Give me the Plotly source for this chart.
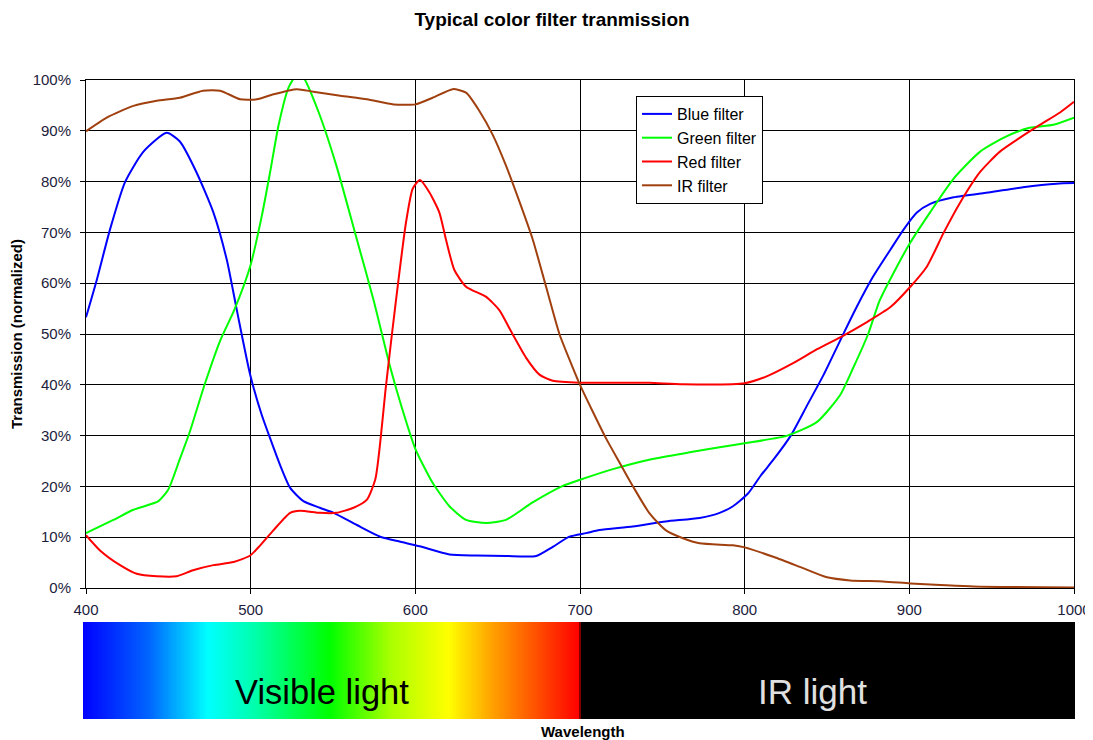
import plotly.graph_objects as go

# ---------------- data ----------------
blue_nm = [400, 406.5, 414.6, 423.7, 434.9, 449, 457, 467, 477.4, 485.5, 491.6, 499.7, 506.8, 511.9, 518, 524,
           532, 542, 550.4, 564.5, 578.7, 590.9, 602.6, 620.7, 636.9, 655, 673.4, 683.5, 693.6, 703.7, 711.9,
           732, 752, 772.6, 784.8, 792.9, 802, 809.7, 817.8, 828, 838, 848, 858, 868, 878, 888.5, 896.6,
           904.6, 912.7, 926.9, 949, 969, 989.5, 1000]
blue_t = [53.3, 60.6, 70.6, 79.9, 85.9, 89.6, 87.9, 81.9, 73.9, 64.6, 54.7, 42, 34, 29.4, 24.1, 19.7,
          17.1, 15.8, 14.8, 12.4, 10.1, 9.1, 8.2, 6.6, 6.4, 6.3, 6.3, 8.1, 10.1, 10.8, 11.4,
          12.1, 13.1, 13.8, 14.8, 16.1, 18.6, 22.1, 25.4, 30, 36, 42, 48.7, 55.3, 61.3, 66.6, 70.6,
          73.9, 75.6, 76.9, 77.9, 78.9, 79.6, 79.7]

green_nm = [400, 416.6, 428.8, 444, 450, 457, 463, 472, 481.5, 490, 499.7, 506.8, 511.9, 517, 523, 528,
            532, 541, 552, 564.5, 574.7, 584.8, 591.9, 600, 610.5, 620.7, 630.8, 643, 655, 671, 689.6, 700,
            720, 744, 766.6, 784.8, 800, 825.9, 844, 858, 866, 875, 882, 892.5, 900.6, 912.7, 926.9,
            943, 959, 973, 987.5, 1000]
green_t = [10.8, 13.4, 15.4, 17.1, 19.4, 25.4, 30.7, 40, 48.7, 54.7, 63.3, 73.3, 82, 91.2, 98.5, 101,
           100.5, 93.9, 83.2, 68.6, 56.6, 43.4, 35.4, 27.4, 20.7, 16.1, 13.4, 12.8, 13.4, 16.8, 20.1, 21.3,
           23.4, 25.4, 26.7, 27.7, 28.5, 30, 32.7, 38, 43.4, 50, 56.6, 63.3, 68, 74, 80.6,
           85.9, 88.9, 90.6, 91.2, 92.6]

red_nm = [400, 408.5, 420.7, 430.8, 443, 455, 465, 477.4, 489.6, 499.7, 505.8, 513.9, 524, 530, 542, 552,
          562.5, 570.6, 575.7, 578.7, 581.8, 585.8, 589.9, 594.3, 598.4, 602.8, 608.5, 614.6, 618.6, 623.7,
          630.8, 643, 651, 659, 667.3, 675.4, 683.5, 700, 722, 742, 762.5, 800, 813.7, 828, 844, 860,
          874, 888.5, 900.6, 910.7, 920.8, 930.9, 943, 955, 967, 979.5, 991.5, 1000]
red_t = [10.4, 7.4, 4.5, 2.8, 2.3, 2.3, 3.5, 4.5, 5.1, 6.4, 8.4, 11.4, 14.8, 15.2, 14.8, 14.8,
         15.8, 17.4, 21.4, 28.7, 38.7, 50, 61, 71.9, 78.6, 80.3, 77.9, 73.9, 68.6, 62.6,
         59.3, 57.3, 54.7, 50, 45.3, 42, 40.8, 40.4, 40.4, 40.4, 40.1, 40.3, 41.7, 44, 47, 49.7,
         52.3, 55.3, 59.3, 63.3, 69.9, 75.9, 81.9, 85.9, 88.6, 91.2, 93.6, 95.7]

ir_nm = [400, 412.6, 428.8, 443, 457, 471, 481.5, 493.6, 503.7, 513.9, 528, 538, 554.4, 570.6, 586.8, 600,
         610.5, 622.7, 630.8, 638.9, 647, 655, 663.4, 671.3, 679.4, 687.5, 695.6, 700, 707.8, 715.9, 724,
         732, 742, 752, 762.5, 772.6, 792.9, 800, 817.8, 834, 850, 864, 884, 900.6, 918.8, 939, 1000]
ir_t = [89.9, 92.6, 94.9, 95.9, 96.5, 97.9, 97.9, 96.2, 96.2, 97.2, 98.2, 97.7, 96.9, 96.2, 95.2, 95.2,
        96.5, 98.2, 97.5, 93.9, 89.2, 83.2, 75.9, 68.6, 59.3, 50, 43.4, 40, 34.7, 29.4, 24.7,
        20.1, 14.8, 11.4, 9.8, 8.8, 8.4, 8.0, 6.1, 4.1, 2.1, 1.5, 1.3, 0.9, 0.6, 0.3, 0.1]

series_names = ["Blue filter", "Green filter", "Red filter", "IR filter"]
series_colors = ["#0000FF", "#00FF00", "#FF0000", "#A0400F"]

x_ticks = [400, 500, 600, 700, 800, 900, 1000]

# spectrum bar: wavelength stops and their colours
spectrum_stops_nm = [398, 438, 474, 503, 548, 585, 620, 647, 699.5, 700.5, 1001]
spectrum_stops_col = ["rgb(0,0,255)", "rgb(0,100,255)", "rgb(0,255,255)", "rgb(0,255,170)",
                      "rgb(0,255,0)", "rgb(170,255,0)", "rgb(255,255,0)", "rgb(255,160,0)",
                      "rgb(255,0,0)", "rgb(0,0,0)", "rgb(0,0,0)"]
spectrum_nm = list(range(398, 1002, 1))

FONT = "Arial, Liberation Sans, sans-serif"
TICKCOL = "#1c1c3c"

W, H = 1085, 732          # page body has an 8px margin in the 1093x740 window
L, R, T, B = 75, 18, 72, 21
PW = W - L - R            # 992
PH = H - T - B            # 639
AX_L, AX_R = 78, 1066     # main plot area (px, figure coords)
PXNM = (AX_R - AX_L) / 600.0

fig = go.Figure()

for nm, t, name, col in zip([blue_nm, green_nm, red_nm, ir_nm], [blue_t, green_t, red_t, ir_t],
                            series_names, series_colors):
    fig.add_trace(go.Scatter(
        x=nm, y=[v / 100 for v in t], name=name, mode="lines",
        line=dict(color=col, width=2, shape="spline", smoothing=0.6),
        xaxis="x", yaxis="y",
    ))

zmin, zmax = spectrum_stops_nm[0], spectrum_stops_nm[-1]
cscale = [[(w - zmin) / (zmax - zmin), c] for w, c in zip(spectrum_stops_nm, spectrum_stops_col)]
fig.add_trace(go.Heatmap(
    x=spectrum_nm, y=[0.5], z=[spectrum_nm], colorscale=cscale, zmin=zmin, zmax=zmax,
    showscale=False, hoverinfo="skip", xaxis="x2", yaxis="y2", showlegend=False,
))

fig.update_layout(
    width=W, height=H,
    margin=dict(l=L, r=R, t=T, b=B, autoexpand=False),
    paper_bgcolor="white", plot_bgcolor="white",
    font=dict(family=FONT, size=15, color="black"),
    title=dict(text="<b>Typical color filter tranmission</b>", x=544 / W, xref="container",
               xanchor="center", y=1 - 11 / H, yanchor="middle",
               font=dict(family=FONT, size=19, color="black")),
    xaxis=dict(domain=[(AX_L - L) / PW, (AX_R - L) / PW], range=[400, 1000], tickvals=x_ticks,
               showgrid=True, gridcolor="black", gridwidth=1, showline=True, linecolor="black",
               linewidth=1, mirror=True, ticks="outside", ticklen=5, tickcolor="black",
               ticklabelstandoff=3, tickfont=dict(family=FONT, size=15, color=TICKCOL),
               zeroline=False, anchor="y", automargin=False),
    yaxis=dict(domain=[(711 - 580) / PH, 1], range=[0, 1], dtick=0.1, tickformat=".0%",
               showgrid=True, gridcolor="black", gridwidth=1, showline=True, linecolor="black",
               linewidth=1, mirror=True, ticks="outside", ticklen=5, tickcolor="black",
               ticklabelstandoff=6, automargin=False,
               tickfont=dict(family=FONT, size=15, color=TICKCOL), zeroline=False,
               title=dict(text="<b>Transmission (normalized)</b>", standoff=7,
                          font=dict(family=FONT, size=15, color="black"))),
    xaxis2=dict(domain=[0, 1], range=[400 - (AX_L - L) / PXNM, 1000 + (W - R - AX_R) / PXNM],
                visible=False, anchor="y2"),
    yaxis2=dict(domain=[0, (711 - 614) / PH], range=[0, 1], visible=False, anchor="x2"),
    legend=dict(x=(628 - L) / PW, y=(711 - 88) / PH, xanchor="left", yanchor="top",
                bgcolor="white", bordercolor="black", borderwidth=1,
                font=dict(family=FONT, size=16, color="black"), tracegroupgap=0),
    showlegend=True,
)

fig.add_annotation(text="Visible light", x=543.3, y=0.28, xref="x2", yref="y2", showarrow=False,
                   font=dict(family=FONT, size=34.5, color="black"))
fig.add_annotation(text="IR light", x=841, y=0.28, xref="x2", yref="y2", showarrow=False,
                   font=dict(family=FONT, size=35, color="#e0e0e0"))
fig.add_annotation(text="<b>Wavelength</b>", x=(575 - L) / PW, y=(711 - 723) / PH, xref="paper",
                   yref="paper", showarrow=False, yanchor="middle", xanchor="center",
                   font=dict(family=FONT, size=15, color="black"))

fig.write_html("out.html")
